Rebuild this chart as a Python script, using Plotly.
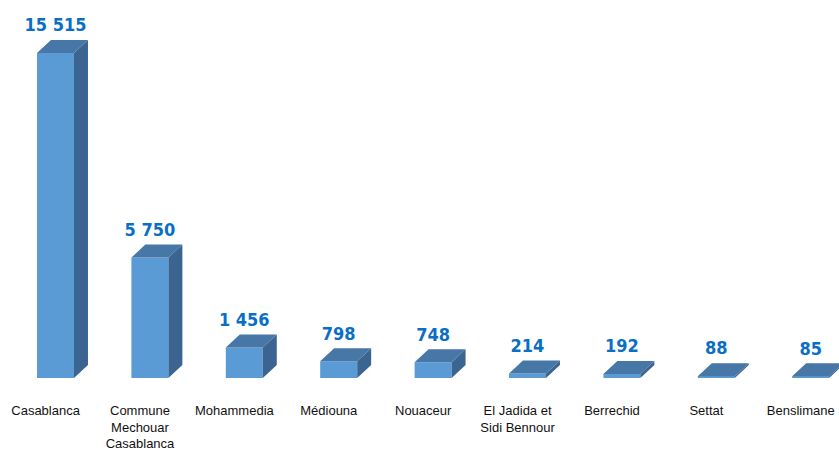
import plotly.graph_objects as go

categories = ["Casablanca", "Commune<br>Mechouar<br>Casablanca", "Mohammedia", "Médiouna",
              "Nouaceur", "El Jadida et<br>Sidi Bennour", "Berrechid", "Settat", "Benslimane"]
values = [15515, 5750, 1456, 798, 748, 214, 192, 88, 85]

# styling / geometry (in axis units)
bar_w = 0.392
depth_x = 0.148
depth_y = 620
label_gap = 200
front_col = "#5B9BD5"
top_col = "#4677A6"
side_col = "#3B6490"
label_col = "#0A6FC4"

xs = list(range(len(values)))

fig = go.Figure()

# front faces
fig.add_trace(go.Bar(x=xs, y=values, width=bar_w, marker=dict(color=front_col, line=dict(width=0)),
                     hoverinfo="skip", showlegend=False))

# side faces
sx, sy = [], []
for x, v in zip(xs, values):
    xr = x + bar_w / 2
    sx += [xr, xr + depth_x, xr + depth_x, xr, xr, None]
    sy += [0, depth_y, v + depth_y, v, 0, None]
fig.add_trace(go.Scatter(x=sx, y=sy, mode="lines", fill="toself", fillcolor=side_col,
                         line=dict(width=0, color=side_col), hoverinfo="skip", showlegend=False))

# top faces
tx, ty = [], []
for x, v in zip(xs, values):
    xl = x - bar_w / 2
    xr = x + bar_w / 2
    tx += [xl, xr, xr + depth_x, xl + depth_x, xl, None]
    ty += [v, v, v + depth_y, v + depth_y, v, None]
fig.add_trace(go.Scatter(x=tx, y=ty, mode="lines", fill="toself", fillcolor=top_col,
                         line=dict(width=0, color=top_col), hoverinfo="skip", showlegend=False))

# value labels
labels = [f"{v:,}".replace(",", " ") for v in values]
fig.add_trace(go.Scatter(x=xs, y=[v + depth_y + label_gap for v in values], mode="text", text=labels,
                         textposition="top center",
                         textfont=dict(family="DejaVu Sans Condensed, sans-serif",
                                       size=18, color=label_col, weight="bold"),
                         hoverinfo="skip", showlegend=False, cliponaxis=False))

fig.update_layout(
    width=839, height=459,
    margin=dict(l=0, r=0, t=0, b=81),
    paper_bgcolor="white", plot_bgcolor="white",
    xaxis=dict(range=[-0.588, 8.300], tickvals=[x - 0.105 for x in xs], ticktext=categories,
               showgrid=False, zeroline=False, showline=False,
               ticks="outside", ticklen=20, tickcolor="rgba(0,0,0,0)",
               tickfont=dict(family="Liberation Sans, Arial, sans-serif", size=13, color="#111111"),
               tickangle=0, automargin=False, fixedrange=True),
    yaxis=dict(range=[0, 18046], visible=False, fixedrange=True),
    showlegend=False,
)

fig.write_html("out.html", config={"displayModeBar": False},
               post_script="document.body.style.margin='0px';document.body.style.padding='0px';")
